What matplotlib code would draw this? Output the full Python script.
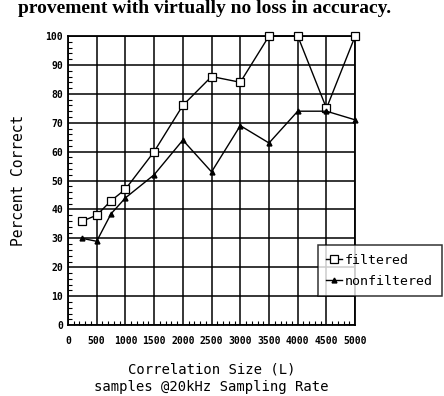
import numpy as np
import matplotlib
matplotlib.use('Agg')
import matplotlib.pyplot as plt
from matplotlib.ticker import MultipleLocator

# размер корреляции (отсчёты) и процент правильных ответов
sizes = [250, 500, 750, 1000, 1500, 2000, 2500, 3000, 3500, 4000, 4500, 5000]
filtered = [36, 38, 43, 47, 60, 76, 86, 84, 100, 100, 75, 100]
nonfiltered = [30, 29, 38.5, 44, 52, 64, 53, 69, 63, 74, 74, 71]

x_ticks = [0, 500, 1000, 1500, 2000, 2500, 3000, 3500, 4000, 4500, 5000]
y_ticks = [0, 10, 20, 30, 40, 50, 60, 70, 80, 90, 100]

mono = 'DejaVu Sans Mono'

fig = plt.figure(figsize=(4.44, 3.96), dpi=100)
ax = fig.add_axes([0.153, 0.179, 0.647, 0.730])

# обрезанная строка текста статьи сверху
fig.text(0.04, 0.967, 'provement with virtually no loss in accuracy.',
         family='Liberation Serif', weight='bold', fontsize=14, va='baseline')

ax.plot(sizes, filtered, color='black', lw=1.0, marker='s', markersize=5.5,
        markerfacecolor='white', markeredgecolor='black', markeredgewidth=0.9,
        label='filtered', zorder=4, clip_on=False)
ax.plot(sizes, nonfiltered, color='black', lw=1.0, marker='^', markersize=3.5,
        markerfacecolor='black', markeredgecolor='black',
        label='nonfiltered', zorder=4, clip_on=False)

ax.set_xlim(0, 5000)
ax.set_ylim(0, 100)
ax.set_xticks(x_ticks)
ax.set_yticks(y_ticks)
ax.xaxis.set_minor_locator(MultipleLocator(100))
ax.yaxis.set_minor_locator(MultipleLocator(2))
ax.grid(True, which='major', color='black', lw=1.1)
ax.tick_params(which='both', direction='in', length=3, width=0.8,
               top=False, right=False)
ax.tick_params(which='major', length=0)
ax.tick_params(axis='x', which='major', pad=8)
for lab in ax.get_xticklabels() + ax.get_yticklabels():
    lab.set_family(mono)
    lab.set_weight('bold')
    lab.set_fontsize(7)
for sp in ax.spines.values():
    sp.set_linewidth(1.3)

ax.set_xlabel('Correlation Size (L)\nsamples @20kHz Sampling Rate',
              family=mono, fontsize=10, labelpad=11.5, linespacing=1.35)
ax.set_ylabel('Percent Correct', family=mono, fontsize=10.5, labelpad=14)

leg = ax.legend(loc='upper left', bbox_to_anchor=(0.716, 0.381),
                bbox_transform=fig.transFigure, frameon=True, fancybox=False,
                prop={'family': mono, 'size': 9.5}, handlelength=1.2,
                handletextpad=0.2, borderpad=0.65, labelspacing=0.6,
                borderaxespad=0)
leg.get_frame().set_edgecolor('black')
leg.get_frame().set_linewidth(1.1)
leg.set_zorder(10)

fig.savefig('out.png', dpi=100)
